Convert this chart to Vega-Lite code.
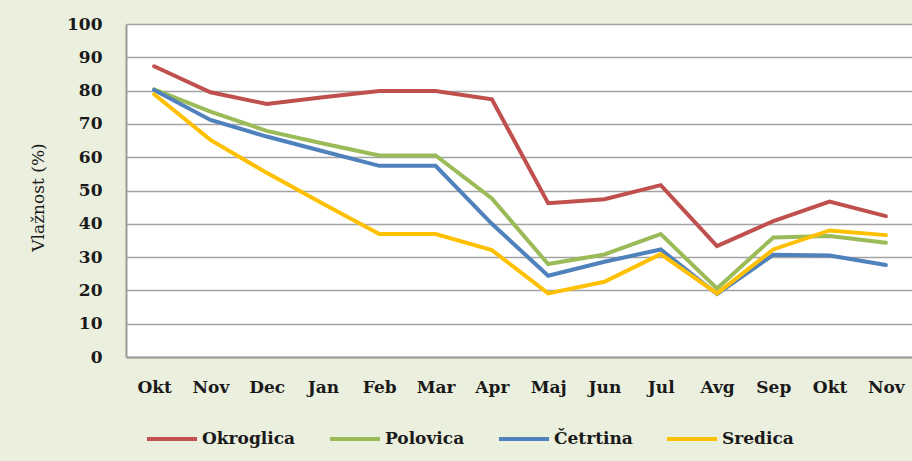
{
  "$schema": "https://vega.github.io/schema/vega-lite/v6.json",
  "autosize": "none",
  "padding": {"left": 126, "top": 24, "right": 0, "bottom": 104},
  "width": 788,
  "height": 333,
  "background": "#EBEFDE",
  "config": {
    "view": {"fill": "white", "stroke": null},
    "font": "DejaVu Serif"
  },
  "data": {
    "values": [
      {"m": "Okt", "s": "Okroglica", "v": 87.3},
      {"m": "Nov", "s": "Okroglica", "v": 79.5},
      {"m": "Dec", "s": "Okroglica", "v": 76},
      {"m": "Jan", "s": "Okroglica", "v": 78},
      {"m": "Feb", "s": "Okroglica", "v": 79.9},
      {"m": "Mar", "s": "Okroglica", "v": 79.9},
      {"m": "Apr", "s": "Okroglica", "v": 77.4},
      {"m": "Maj", "s": "Okroglica", "v": 46.2},
      {"m": "Jun", "s": "Okroglica", "v": 47.4},
      {"m": "Jul", "s": "Okroglica", "v": 51.6},
      {"m": "Avg", "s": "Okroglica", "v": 33.3},
      {"m": "Sep", "s": "Okroglica", "v": 40.8},
      {"m": "Okt2", "s": "Okroglica", "v": 46.7},
      {"m": "Nov2", "s": "Okroglica", "v": 42.3},
      {"m": "Okt", "s": "Polovica", "v": 80.4},
      {"m": "Nov", "s": "Polovica", "v": 73.7},
      {"m": "Dec", "s": "Polovica", "v": 67.9},
      {"m": "Jan", "s": "Polovica", "v": 64.1},
      {"m": "Feb", "s": "Polovica", "v": 60.5},
      {"m": "Mar", "s": "Polovica", "v": 60.5},
      {"m": "Apr", "s": "Polovica", "v": 47.6},
      {"m": "Maj", "s": "Polovica", "v": 27.9},
      {"m": "Jun", "s": "Polovica", "v": 30.8},
      {"m": "Jul", "s": "Polovica", "v": 36.9},
      {"m": "Avg", "s": "Polovica", "v": 20.6},
      {"m": "Sep", "s": "Polovica", "v": 35.9},
      {"m": "Okt2", "s": "Polovica", "v": 36.3},
      {"m": "Nov2", "s": "Polovica", "v": 34.3},
      {"m": "Okt", "s": "Četrtina", "v": 80.2},
      {"m": "Nov", "s": "Četrtina", "v": 71.2},
      {"m": "Dec", "s": "Četrtina", "v": 66.2},
      {"m": "Jan", "s": "Četrtina", "v": 61.8},
      {"m": "Feb", "s": "Četrtina", "v": 57.4},
      {"m": "Mar", "s": "Četrtina", "v": 57.4},
      {"m": "Apr", "s": "Četrtina", "v": 40},
      {"m": "Maj", "s": "Četrtina", "v": 24.4},
      {"m": "Jun", "s": "Četrtina", "v": 28.6},
      {"m": "Jul", "s": "Četrtina", "v": 32.3},
      {"m": "Avg", "s": "Četrtina", "v": 18.9},
      {"m": "Sep", "s": "Četrtina", "v": 30.7},
      {"m": "Okt2", "s": "Četrtina", "v": 30.5},
      {"m": "Nov2", "s": "Četrtina", "v": 27.6},
      {"m": "Okt", "s": "Sredica", "v": 78.9},
      {"m": "Nov", "s": "Sredica", "v": 65.2},
      {"m": "Dec", "s": "Sredica", "v": 55.3},
      {"m": "Jan", "s": "Sredica", "v": 46},
      {"m": "Feb", "s": "Sredica", "v": 36.9},
      {"m": "Mar", "s": "Sredica", "v": 36.9},
      {"m": "Apr", "s": "Sredica", "v": 32.1},
      {"m": "Maj", "s": "Sredica", "v": 19.1},
      {"m": "Jun", "s": "Sredica", "v": 22.6},
      {"m": "Jul", "s": "Sredica", "v": 30.9},
      {"m": "Avg", "s": "Sredica", "v": 19.1},
      {"m": "Sep", "s": "Sredica", "v": 32.3},
      {"m": "Okt2", "s": "Sredica", "v": 38},
      {"m": "Nov2", "s": "Sredica", "v": 36.6}
    ]
  },
  "mark": {"type": "line", "strokeWidth": 4, "strokeJoin": "miter", "strokeCap": "round"},
  "encoding": {
    "x": {
      "field": "m",
      "type": "ordinal",
      "sort": ["Okt", "Nov", "Dec", "Jan", "Feb", "Mar", "Apr", "Maj", "Jun", "Jul", "Avg", "Sep", "Okt2", "Nov2"],
      "scale": {"type": "point", "padding": 0.5},
      "axis": {
        "title": null,
        "labelAngle": 0,
        "labelExpr": "replace(datum.label, '2', '')",
        "labelFont": "DejaVu Serif",
        "labelFontSize": 17,
        "labelFontWeight": "bold",
        "labelColor": "#1a1a1a",
        "labelPadding": 22,
        "ticks": false,
        "domainColor": "#9a9a9a",
        "domainWidth": 2,
        "grid": false
      }
    },
    "y": {
      "field": "v",
      "type": "quantitative",
      "scale": {"domain": [0, 100], "nice": false},
      "axis": {
        "title": "Vlažnost (%)",
        "values": [0, 10, 20, 30, 40, 50, 60, 70, 80, 90, 100],
        "labelFont": "DejaVu Serif",
        "labelFontSize": 17,
        "labelFontWeight": "bold",
        "labelColor": "#1a1a1a",
        "labelPadding": 24,
        "ticks": false,
        "domainColor": "#9a9a9a",
        "domainWidth": 2,
        "gridColor": "#a3a3a3",
        "gridWidth": 1.6,
        "titleFont": "DejaVu Serif",
        "titleFontSize": 17,
        "titleFontWeight": "normal",
        "titleColor": "#1a1a1a",
        "titleAngle": -90,
        "titleX": -88,
        "titleY": 173,
        "titleAlign": "center",
        "titleBaseline": "middle"
      }
    },
    "color": {
      "field": "s",
      "type": "nominal",
      "scale": {
        "domain": ["Okroglica", "Polovica", "Četrtina", "Sredica"],
        "range": ["#C0504D", "#9BBB59", "#4F81BD", "#FFC000"]
      },
      "legend": {
        "title": null,
        "orient": "none",
        "direction": "horizontal",
        "legendX": 19,
        "legendY": 388,
        "symbolType": "stroke",
        "symbolSize": 2500,
        "symbolStrokeWidth": 4,
        "labelFont": "DejaVu Serif",
        "labelFontSize": 17,
        "labelFontWeight": "bold",
        "labelColor": "#1a1a1a",
        "labelOffset": 3,
        "columnPadding": 26
      }
    }
  }
}
